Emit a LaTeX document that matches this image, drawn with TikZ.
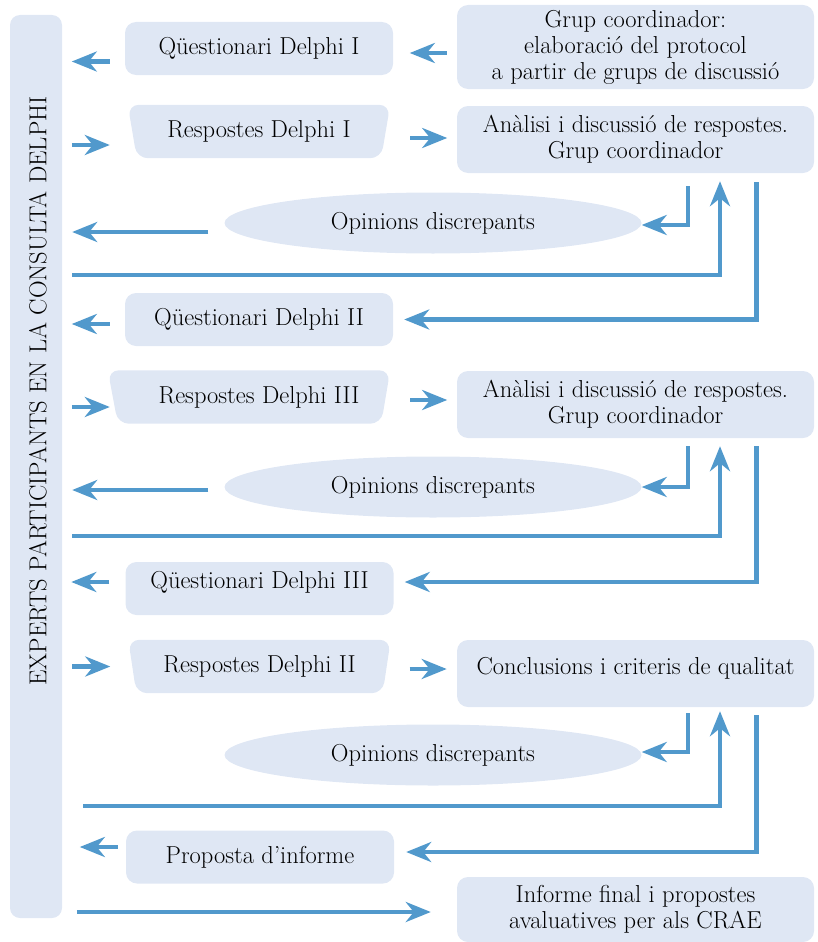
\documentclass[tikz,border=0pt]{standalone}
\usepackage{tikz}
\usetikzlibrary{arrows.meta,shapes.geometric,backgrounds}
\definecolor{paleblue}{HTML}{DFE7F4}
\definecolor{flowblue}{HTML}{5199CC}
\tikzset{
  stage/.style={fill=paleblue, rounded corners=11pt, minimum width=268pt, minimum height=53pt, inner sep=0pt},
  answer/.style={minimum width=262pt, minimum height=53pt, inner sep=0pt},
  group/.style={fill=paleblue, rounded corners=11pt, minimum width=357pt, inner sep=0pt, align=center},
  opinion/.style={ellipse, fill=paleblue, minimum width=417pt, minimum height=61pt, inner sep=0pt},
  flow/.style={draw=flowblue, line width=4.8pt, -{Stealth[length=25pt,width=20pt,inset=8pt]}},
}
\begin{document}
\begin{tikzpicture}[x=1pt, y=-1pt, every node/.style={font=\fontsize{24.5}{26}\selectfont}]
\useasboundingbox (0,0) rectangle (817,942);

% left column
\node[fill=paleblue, rounded corners=10pt, minimum width=52pt, minimum height=903pt, inner sep=0pt] (bar) at (36,466.5) {};
\node[rotate=90, font=\fontsize{24.5}{26}\selectfont] (experts) at (38,391) {EXPERTS PARTICIPANTS EN LA CONSULTA DELPHI};
\coordinate (wall) at ([xshift=10pt]bar.east);

% first round
\node[stage] (q1) at (259,48.5) {Qüestionari Delphi I};
\node[group, minimum height=84pt] (g0) at (635.5,47) {Grup coordinador:\\elaboració del protocol\\a partir de grups de discussió};
\node[answer] (r1) at (259,131.5) {Respostes Delphi I};
\node[group, minimum height=67pt] (a1) at (635.5,139.5) {Anàlisi i discussió de respostes.\\Grup coordinador};
\node[opinion] (e1) at (433,223) {Opinions discrepants};
\node[stage] (q2) at (259,319.5) {Qüestionari Delphi II};

% second round
\node[answer] (r3) at (259,397) {Respostes Delphi III};
\node[group, minimum height=67pt] (a2) at (635.5,404.5) {Anàlisi i discussió de respostes.\\Grup coordinador};
\node[opinion] (e2) at (433,487) {Opinions discrepants};
\node[stage, text depth=17pt] (q3) at (259.5,588.5) {Qüestionari Delphi III};

% third round
\node[answer] (r2) at (259.5,666.5) {Respostes Delphi II};
\node[group, minimum height=67pt, text depth=15pt] (c) at (635.5,673.5) {Conclusions i criteris de qualitat};
\node[opinion] (e3) at (433,755) {Opinions discrepants};
\node[stage] (p) at (260,857) {Proposta d’informe};
\node[group, minimum height=65pt] (f) at (635.5,909.5) {Informe final i propostes\\avaluatives per als CRAE};

\begin{scope}[on background layer]
  \fill[paleblue, rounded corners=11pt] (r1.north west) -- (r1.north east) -- ([xshift=-9pt]r1.south east) -- ([xshift=9pt]r1.south west) -- cycle;
  \fill[paleblue, rounded corners=11pt] ([xshift=-20pt]r3.north west) -- (r3.north east) -- ([xshift=-9pt]r3.south east) -- ([xshift=-10pt]r3.south west) -- cycle;
  \fill[paleblue, rounded corners=11pt] (r2.north west) -- (r2.north east) -- ([xshift=-8pt]r2.south east) -- ([xshift=8pt]r2.south west) -- cycle;
\end{scope}

% arrows, first round
\draw[flow] ([xshift=-15pt,yshift=-13pt]q1.west) -- ++(-38,0);
\draw[flow] ([xshift=-10pt,yshift=-6pt]g0.west) -- ++(-37,0);
\draw[flow] ([xshift=-56pt,yshift=-13.5pt]r1.west) -- ++(38,0);
\draw[flow] ([xshift=20pt,yshift=-6.5pt]r1.east) -- ++(37,0);
\draw[flow] ([xshift=52.5pt,yshift=-13pt]a1.south) |- ([yshift=-2pt]e1.east);
\draw[flow] ([xshift=-16pt,yshift=-9pt]e1.west) -- (wall |- 0,232);
\draw[flow] (wall |- 0,275) -| ([xshift=84.5pt,yshift=-8pt]a1.south);
\draw[flow] ([xshift=121pt,yshift=-9pt]a1.south) |- ([xshift=11pt]q2.east);
\draw[flow] ([xshift=-15pt,yshift=-4.5pt]q2.west) -- ++(-38,0);

% arrows, second round
\draw[flow] ([xshift=-56pt,yshift=-10pt]r3.west) -- ++(38,0);
\draw[flow] ([xshift=20pt,yshift=-3pt]r3.east) -- ++(37,0);
\draw[flow] ([xshift=52.5pt,yshift=-8pt]a2.south) |- (e2.east);
\draw[flow] ([xshift=-16pt,yshift=-3pt]e2.west) -- (wall |- 0,490);
\draw[flow] (wall |- 0,536) -| ([xshift=84.5pt,yshift=-8pt]a2.south);
\draw[flow] ([xshift=121pt,yshift=-8pt]a2.south) |- ([xshift=11pt,yshift=6.5pt]q3.east);
\draw[flow] ([xshift=-16pt,yshift=6.5pt]q3.west) -- ++(-38,0);

% arrows, third round
\draw[flow] ([xshift=-56pt]r2.west) -- ++(38,0);
\draw[flow] ([xshift=19pt,yshift=-2.5pt]r2.east) -- ++(37,0);
\draw[flow] ([xshift=52.5pt,yshift=-6pt]c.south) |- ([yshift=3pt]e3.east);
\draw[flow, shorten <=11pt] (wall |- 0,806) -| ([xshift=84.5pt,yshift=-4pt]c.south);
\draw[flow] ([xshift=121pt,yshift=-8pt]c.south) |- ([xshift=12pt,yshift=5pt]p.east);
\draw[flow] ([xshift=-8pt,yshift=10pt]p.west) -- ++(-38,0);
\draw[flow] ([xshift=-380pt,yshift=-2.5pt]f.west) -- ([xshift=-26pt,yshift=-2.5pt]f.west);
\end{tikzpicture}
\end{document}
